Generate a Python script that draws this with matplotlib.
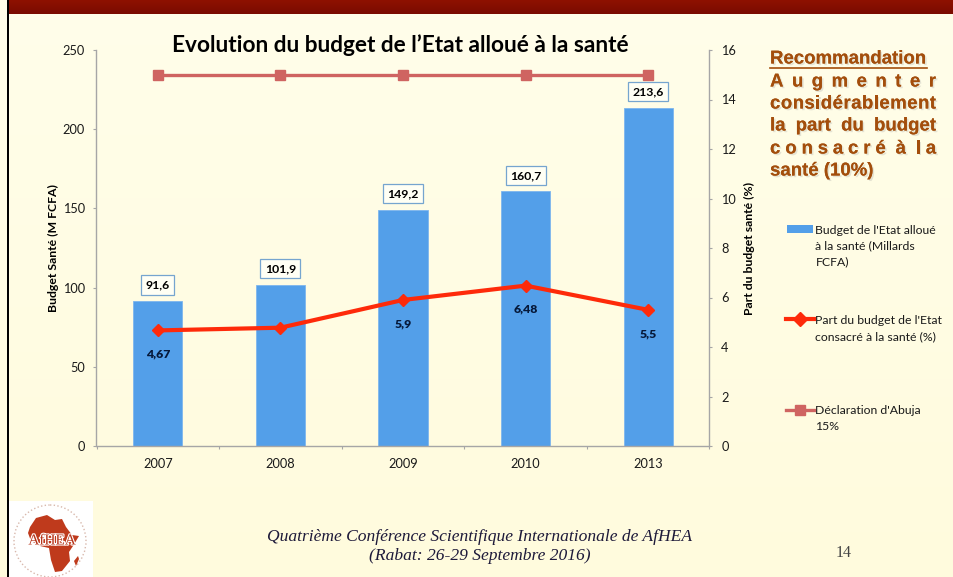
#!/usr/bin/env python3
"""Slide: Evolution du budget de l'Etat alloue a la sante."""
import matplotlib
matplotlib.use("Agg")
import matplotlib.pyplot as plt
import matplotlib.patheffects as pe
from matplotlib.colors import LinearSegmentedColormap
from matplotlib.patches import Polygon, Rectangle, Circle
import numpy as np

years = ["2007", "2008", "2009", "2010", "2013"]
budget = [91.6, 101.9, 149.2, 160.7, 213.6]
budget_labels = ["91,6", "101,9", "149,2", "160,7", "213,6"]
part = [4.67, 4.78, 5.9, 6.48, 5.5]
part_labels = ["4,67", "", "5,9", "6,48", "5,5"]
abuja = [15, 15, 15, 15, 15]
left_ticks = [0, 50, 100, 150, 200, 250]
right_ticks = [0, 2, 4, 6, 8, 10, 12, 14, 16]

BG = "#FFFDE6"
BLUE = "#539FE9"
RED = "#FE2A0A"
ROSE = "#CF6461"
BROWN = "#A34E0C"
GREY = "#A6A6A6"
INK = "#1A1A1A"

plt.rcParams["font.family"] = ["Lato", "DejaVu Sans"]

fig = plt.figure(figsize=(9.54, 5.77), dpi=100, facecolor=BG)

# slide furniture, drawn in pixel coordinates
slide = fig.add_axes([0, 0, 1, 1], zorder=0)
slide.axis("off")
ramp = np.linspace(0, 1, 64).reshape(-1, 1)
slide.imshow(ramp, extent=(0, 954, 577, 0), aspect="auto",
             cmap=LinearSegmentedColormap.from_list("bg", ["#FFFEEA", "#FFFBDD"]))
slide.imshow(ramp[:16], extent=(9, 954, 14, 0), aspect="auto",
             cmap=LinearSegmentedColormap.from_list("band", ["#8E1100", "#7A0B00"]))
slide.set_xlim(0, 954)
slide.set_ylim(577, 0)
slide.add_patch(Rectangle((7, 0), 2.4, 577, color="black", lw=0))

# chart
ax = fig.add_axes([96.5 / 954, (577 - 446) / 577, 613 / 954, 396 / 577], zorder=2)
ax.patch.set_alpha(0)
x = np.arange(len(years))
ax.bar(x, budget, width=0.4, color=BLUE, edgecolor="#7DB6EE", linewidth=0.6, zorder=2)
ax.set_xlim(-0.5, 4.5)
ax.set_ylim(0, 250)
ax.set_yticks(left_ticks)
ax.set_xticks(np.arange(-0.5, 5, 1), minor=False)
ax.set_xticklabels([])
for pos, year in zip(x, years):
    ax.annotate(year, (pos, 0), xytext=(0, -13), textcoords="offset points", ha="center",
                va="center", fontsize=9.2, color=INK)
for name in ("top", "right"):
    ax.spines[name].set_visible(False)
for name in ("left", "bottom"):
    ax.spines[name].set_color(GREY)
    ax.spines[name].set_linewidth(1.0)
ax.tick_params(axis="both", length=2.5, width=0.8, color=GREY, labelcolor=INK, labelsize=9.2, pad=6)
ax.set_ylabel("Budget Santé (M FCFA)", fontsize=8.8, fontweight="bold", color="black")
ax.yaxis.set_label_coords(-0.0607, 0.5)

for pos, val, lab in zip(x, budget, budget_labels):
    ax.annotate(lab, (pos, val), xytext=(0, 11.5), textcoords="offset points", ha="center", va="center",
                fontsize=8.8, fontweight="bold", color="black", zorder=6,
                bbox=dict(boxstyle="square,pad=0.35", fc="#FFFFF4", ec="#76A5CF", lw=0.9))

ax2 = ax.twinx()
ax2.set_zorder(3)
ax2.patch.set_alpha(0)
ax2.set_ylim(0, 16)
ax2.set_yticks(right_ticks)
for name in ("top", "left", "bottom"):
    ax2.spines[name].set_visible(False)
ax2.spines["right"].set_color(GREY)
ax2.spines["right"].set_linewidth(1.0)
ax2.tick_params(axis="y", length=2.5, width=0.8, color=GREY, labelcolor=INK, labelsize=9.2, pad=6)
ax2.set_ylabel("Part du budget santé (%)", fontsize=8.8, fontweight="bold", color="black")
ax2.yaxis.set_label_coords(1.0565, 0.5)

ax2.plot(x, abuja, color=ROSE, lw=2.4, marker="s", ms=7.5, mec=ROSE, zorder=3)
ax2.plot(x, part, color=RED, lw=3.0, marker="D", ms=6.5, mec=RED, zorder=4)
for pos, val, lab in zip(x, part, part_labels):
    if lab:
        ax2.annotate(lab, (pos, val), xytext=(0, -17), textcoords="offset points", ha="center",
                     va="center", fontsize=8.8, fontweight="heavy", color="#06193A")

# overlay in pixel coordinates for title, legend, text block
top = fig.add_axes([0, 0, 1, 1], zorder=5)
top.set_xlim(0, 954)
top.set_ylim(577, 0)
top.axis("off")
top.text(400, 45, "Evolution du budget de l’Etat alloué à la santé", ha="center", va="center",
         fontsize=16.3, fontweight="bold", color="black")

# legend
top.add_patch(Rectangle((787, 225), 26, 8, color=BLUE, lw=0))
for y, t in zip((230, 246, 262), ("Budget de l'Etat alloué", "à la santé (Millards", "FCFA)")):
    top.text(815.5, y, t, fontsize=8.8, va="center", color=INK)
top.plot([786, 814], [319, 319], color=RED, lw=3)
top.plot([800], [319], color=RED, marker="D", ms=7)
for y, t in zip((321, 337), ("Part du budget de l'Etat", "consacré à la santé (%)")):
    top.text(815.5, y, t, fontsize=8.8, va="center", color=INK)
top.plot([786, 814], [410, 410], color=ROSE, lw=2.4)
top.plot([800], [410], color=ROSE, marker="s", ms=7.5)
for y, t in zip((411, 427), ("Déclaration d'Abuja", "15%")):
    top.text(815.5, y, t, fontsize=8.8, va="center", color=INK)

# recommendation, justified by hand
shadow = [pe.withSimplePatchShadow(offset=(1.2, -1.2), shadow_rgbFace="#999999", alpha=0.25), pe.Normal()]
reco_font = dict(family="Liberation Sans", fontweight="bold", fontsize=13.4, color=BROWN, va="center",
                 path_effects=shadow)
renderer = fig.canvas.get_renderer()
left_x, right_x = 770, 936


def justify(row_y, words, letters=False):
    """Spread a row between left_x and right_x, by word or letter by letter."""
    items, slots = [], []
    for n, word in enumerate(words):
        for glyph in (word if letters else [word]):
            items.append(top.text(left_x, row_y, glyph, **reco_font))
            slots.append(0)
        slots[-1] = 2 if n < len(words) - 1 else 0
    if letters:
        slots = [s if s else 1 for s in slots[:-1]]
    else:
        slots = [1] * (len(items) - 1)
    widths = [t.get_window_extent(renderer).width for t in items]
    gap = (right_x - left_x - sum(widths)) / sum(slots)
    cur = left_x
    for t, w, s in zip(items, widths, slots + [0]):
        t.set_x(cur)
        cur += w + s * gap


top.text(770, 59, "Recommandation", **reco_font)
top.plot([770, 927], [68, 68], color=BROWN, lw=1.2)
justify(82, ["Augmenter"], letters=True)
justify(104, ["considérablement"], letters=True)
justify(126, ["la", "part", "du", "budget"])
justify(149, ["consacré", "à", "la"], letters=True)
top.text(770, 171, "santé (10%)", **reco_font)

# footer
serif = dict(family="Liberation Serif", style="italic", fontsize=12.6, ha="center", va="center", color="#1E1A3A")
top.text(480, 537, "Quatrième Conférence Scientifique Internationale de AfHEA", **serif)
top.text(480, 556, "(Rabat: 26-29 Septembre 2016)", **serif)
top.text(844, 553, "14", family="Liberation Serif", fontsize=11.5, ha="center", va="center", color="#444444")

# AfHEA logo
top.add_patch(Rectangle((9.4, 501), 84, 76, color="white", lw=0))
top.add_patch(Circle((50, 541), 36, fill=False, ec="#D8B8AC", lw=1.0, ls=":"))
africa = [(30, 527), (36, 518), (47, 515), (55, 520), (62, 519), (66, 527), (72, 535), (79, 536), (73, 546),
          (69, 552), (70, 561), (62, 571), (55, 572), (51, 560), (49, 548), (40, 546), (31, 541), (28, 533)]
top.add_patch(Polygon(africa, closed=True, color="#BF3A1C", lw=0))
top.add_patch(Polygon([(74, 561), (78, 556), (79, 559), (76, 566)], closed=True, color="#BF3A1C", lw=0))
top.text(52, 541, "AfHEA", family="Liberation Serif", fontsize=11, ha="center", va="center", color="#B5341A",
         path_effects=[pe.withStroke(linewidth=1.6, foreground="white")])

fig.savefig("out.png", dpi=100, facecolor=BG)
